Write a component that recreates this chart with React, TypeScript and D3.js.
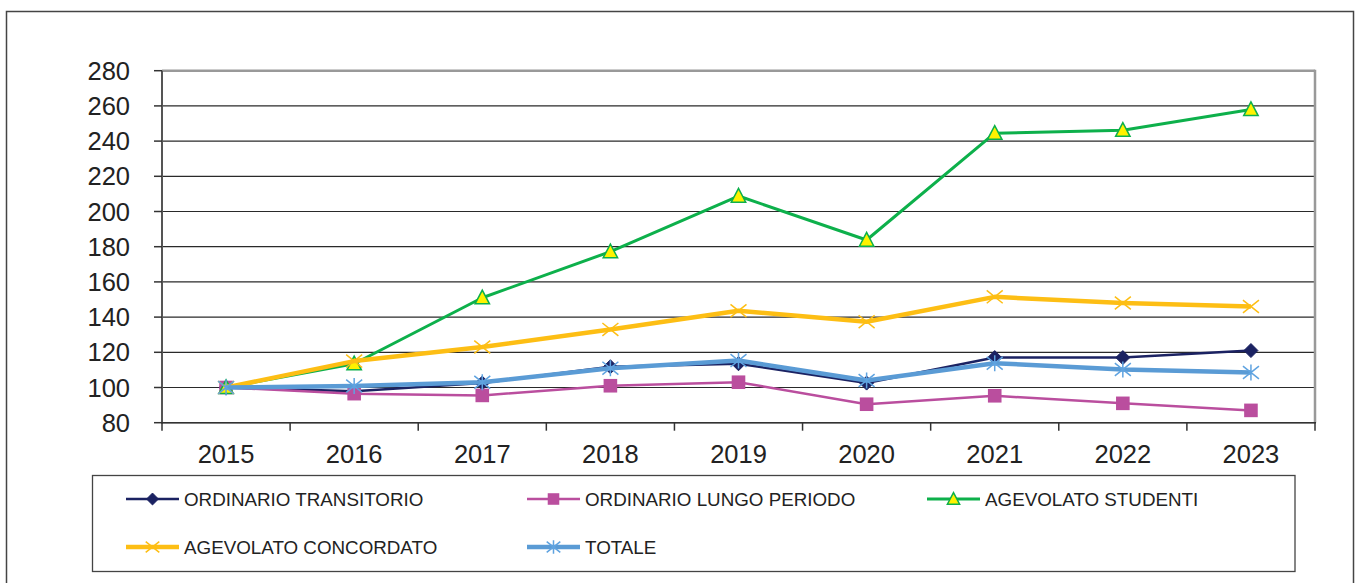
import React from "react";
import * as d3 from "d3";

const years = ["2015", "2016", "2017", "2018", "2019", "2020", "2021", "2022", "2023"];
const yTicks = [80, 100, 120, 140, 160, 180, 200, 220, 240, 260, 280];

const transitorio = [100, 97.8, 102.5, 111.8, 113.5, 102.5, 117, 117, 121];
const lungoPeriodo = [100, 96.5, 95.5, 101, 103, 90.5, 95.3, 91, 87];
const studenti = [100, 113.5, 151, 177.2, 208.8, 183.8, 244.5, 246.2, 258];
const concordato = [100, 115, 123, 133, 143.6, 137.4, 151.5, 148, 146];
const totale = [100, 100.8, 103, 111, 115.3, 104, 113.8, 110.2, 108.5];

const seriesNames = [
  "ORDINARIO TRANSITORIO",
  "ORDINARIO LUNGO PERIODO",
  "AGEVOLATO STUDENTI",
  "AGEVOLATO CONCORDATO",
  "TOTALE",
];

type Marker = "diamond" | "square" | "triangle" | "x" | "star";

const styles: { color: string; width: number; marker: Marker }[] = [
  { color: "#1B2262", width: 2.5, marker: "diamond" },
  { color: "#BA4E9E", width: 2.5, marker: "square" },
  { color: "#0DB04B", width: 3, marker: "triangle" },
  { color: "#FDBE14", width: 4.5, marker: "x" },
  { color: "#5A9BD5", width: 4.5, marker: "star" },
];

const allValues = [transitorio, lungoPeriodo, studenti, concordato, totale];

const FONT = "'Liberation Sans', Arial, sans-serif";

function MarkerShape({ kind, x, y, color, scale = 1 }: { kind: Marker; x: number; y: number; color: string; scale?: number }) {
  const s = scale;
  if (kind === "diamond") {
    const r = 7 * s;
    return <path d={`M${x},${y - r}L${x + r},${y}L${x},${y + r}L${x - r},${y}Z`} fill={color} stroke={color} strokeWidth={1} />;
  }
  if (kind === "square") {
    const r = 6.8 * s;
    return <rect x={x - r} y={y - r} width={2 * r} height={2 * r} fill={color} />;
  }
  if (kind === "triangle") {
    const r = 7.2 * s;
    return (
      <path
        d={`M${x},${y - r * 1.05}L${x + r},${y + r * 0.85}L${x - r},${y + r * 0.85}Z`}
        fill="#FFF200"
        stroke="#0DB04B"
        strokeWidth={1.5}
        strokeLinejoin="miter"
      />
    );
  }
  if (kind === "x") {
    const r = 8 * s;
    return (
      <path d={`M${x - r},${y - r * 0.8}L${x + r},${y + r * 0.8}M${x + r},${y - r * 0.8}L${x - r},${y + r * 0.8}`} stroke="#FDBE14" strokeWidth={1.5} fill="none" />
    );
  }
  const r = 8 * s;
  return (
    <path
      d={`M${x - r},${y - r * 0.8}L${x + r},${y + r * 0.8}M${x + r},${y - r * 0.8}L${x - r},${y + r * 0.8}M${x},${y - r}L${x},${y + r}`}
      stroke="#5FA3E0"
      strokeWidth={1.5}
      fill="none"
    />
  );
}

export default function App() {
  const width = 1360;
  const height = 583;
  const left = 162;
  const right = 1315;
  const top = 70.7;
  const bottom = 422.7;

  const x = d3.scaleBand<string>().domain(years).range([left, right]).padding(0);
  const y = d3.scaleLinear().domain([80, 280]).range([bottom, top]);
  const cx = (yr: string) => (x(yr) as number) + x.bandwidth() / 2;

  const line = d3
    .line<number>()
    .x((_, i) => cx(years[i]))
    .y((d) => y(d));

  const tickXs = years.map((yr) => x(yr) as number).concat([right]);

  const legendPos = [
    { lx: 126, ly: 499 },
    { lx: 527, ly: 499 },
    { lx: 927, ly: 499 },
    { lx: 126, ly: 547 },
    { lx: 527, ly: 547 },
  ];

  return (
    <svg width={width} height={height} style={{ position: "absolute", left: 0, top: 0, background: "#fff" }}>
      <rect x={0} y={0} width={width} height={height} fill="#fff" />
      {/* outer frame */}
      <rect x={6.5} y={11.5} width={1347} height={600} fill="none" stroke="#444" strokeWidth={1.5} />

      {/* gridlines */}
      {yTicks.map((t) => (
        <line key={t} x1={left} x2={right} y1={y(t)} y2={y(t)} stroke={t === 280 ? "#999" : "#2a2a2a"} strokeWidth={t === 280 ? 2.5 : 1.2} />
      ))}
      {/* right border of plot */}
      <line x1={right} x2={right} y1={top - 1} y2={bottom} stroke="#999" strokeWidth={2.5} />

      {/* y axis */}
      <line x1={left} x2={left} y1={top} y2={bottom + 1} stroke="#555" strokeWidth={2} />
      {yTicks.map((t) => (
        <g key={"yt" + t}>
          <line x1={left - 8} x2={left} y1={y(t)} y2={y(t)} stroke="#333" strokeWidth={1.5} />
          <text x={130} y={y(t)} dy="0.36em" textAnchor="end" fontFamily={FONT} fontSize={25.5} fill="#222">
            {t}
          </text>
        </g>
      ))}

      {/* x axis */}
      <line x1={left} x2={right + 1} y1={bottom} y2={bottom} stroke="#333" strokeWidth={1.5} />
      {tickXs.map((tx, i) => (
        <line key={"xt" + i} x1={tx} x2={tx} y1={bottom} y2={bottom + 8} stroke="#333" strokeWidth={1.5} />
      ))}
      {years.map((yr) => (
        <text key={"xl" + yr} x={cx(yr)} y={463} textAnchor="middle" fontFamily={FONT} fontSize={25.5} fill="#222">
          {yr}
        </text>
      ))}

      {/* series */}
      {allValues.map((vals, si) => (
        <g key={"s" + si}>
          <path d={line(vals) || ""} fill="none" stroke={styles[si].color} strokeWidth={styles[si].width} strokeLinejoin="round" />
          {vals.map((v, i) => (
            <MarkerShape key={i} kind={styles[si].marker} x={cx(years[i])} y={y(v)} color={styles[si].color} />
          ))}
        </g>
      ))}

      {/* legend */}
      <rect x={92.5} y={475.5} width={1202.5} height={96} fill="#fff" stroke="#444" strokeWidth={1.3} />
      {seriesNames.map((name, i) => {
        const { lx, ly } = legendPos[i];
        const st = styles[i];
        return (
          <g key={"lg" + i}>
            <line x1={lx} x2={lx + 53} y1={ly} y2={ly} stroke={st.color} strokeWidth={st.width} />
            <MarkerShape kind={st.marker} x={lx + 26.5} y={ly} color={st.color} scale={0.85} />
            <text x={lx + 58} y={ly} dy="0.36em" fontFamily={FONT} fontSize={18.8} fill="#222">
              {name}
            </text>
          </g>
        );
      })}
    </svg>
  );
}
